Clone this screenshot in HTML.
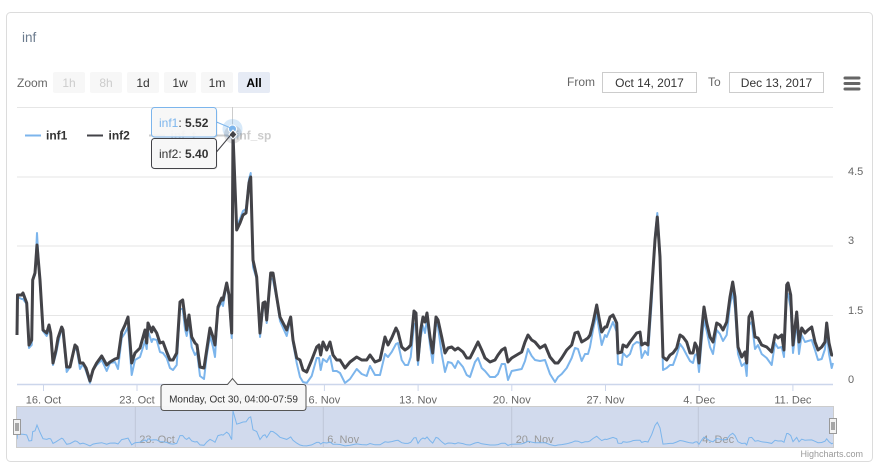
<!DOCTYPE html>
<html>
<head>
<meta charset="utf-8">
<style>
html,body{margin:0;padding:0;background:#fff;width:883px;height:469px;overflow:hidden;}
svg{display:block;font-family:"Liberation Sans",Arial,sans-serif;}
</style>
</head>
<body>
<svg width="883" height="469" viewBox="0 0 883 469" xmlns="http://www.w3.org/2000/svg">
  <!-- container -->
  <rect x="6.5" y="12.5" width="866" height="449" rx="4" ry="4" fill="#fff" stroke="#dcdcdc" stroke-width="1"/>
  <!-- title -->
  <text x="22" y="42" font-size="13.5" fill="#6b7b8e">inf</text>

  <!-- range selector -->
  <text x="17" y="87" font-size="12" fill="#666">Zoom</text>
  <g font-size="12" text-anchor="middle">
    <rect x="53" y="72" width="32" height="21" rx="2" fill="#f7f7f7"/>
    <text x="69" y="87" fill="#cccccc">1h</text>
    <rect x="90" y="72" width="32" height="21" rx="2" fill="#f7f7f7"/>
    <text x="106" y="87" fill="#cccccc">8h</text>
    <rect x="127" y="72" width="32" height="21" rx="2" fill="#f7f7f7"/>
    <text x="143" y="87" fill="#333">1d</text>
    <rect x="164" y="72" width="32" height="21" rx="2" fill="#f7f7f7"/>
    <text x="180" y="87" fill="#333">1w</text>
    <rect x="201" y="72" width="32" height="21" rx="2" fill="#f7f7f7"/>
    <text x="217" y="87" fill="#333">1m</text>
    <rect x="238" y="72" width="32" height="21" rx="2" fill="#e6ebf5"/>
    <text x="254" y="87" fill="#000" font-weight="bold">All</text>
  </g>
  <text x="567" y="86" font-size="12" fill="#666">From</text>
  <rect x="602.5" y="72.5" width="94" height="20" fill="#fff" stroke="#cccccc"/>
  <text x="649.5" y="87" font-size="12" fill="#333" text-anchor="middle">Oct 14, 2017</text>
  <text x="708" y="86" font-size="12" fill="#666">To</text>
  <rect x="729.5" y="72.5" width="94" height="20" fill="#fff" stroke="#cccccc"/>
  <text x="776.5" y="87" font-size="12" fill="#333" text-anchor="middle">Dec 13, 2017</text>
  <!-- hamburger -->
  <g stroke="#666" stroke-width="3" stroke-linecap="round">
    <line x1="845" y1="78" x2="859" y2="78"/>
    <line x1="845" y1="83.5" x2="859" y2="83.5"/>
    <line x1="845" y1="89" x2="859" y2="89"/>
  </g>

  <!-- gridlines -->
  <g stroke="#e6e6e6" stroke-width="1">
    <line x1="17" y1="107.5" x2="833" y2="107.5"/>
    <line x1="17" y1="177" x2="833" y2="177"/>
    <line x1="17" y1="246" x2="833" y2="246"/>
    <line x1="17" y1="315.5" x2="833" y2="315.5"/>
  </g>
  <!-- y labels -->
  <g font-size="11" fill="#666">
    <text x="848" y="175">4.5</text>
    <text x="848" y="244">3</text>
    <text x="848" y="314">1.5</text>
    <text x="848" y="383">0</text>
  </g>

  <!-- crosshair -->
  <line x1="232.5" y1="107" x2="232.5" y2="384" stroke="#cccccc" stroke-width="1"/>

  <!-- series -->
  <polyline id="blue" fill="none" stroke="#7cb5ec" stroke-width="2" stroke-linejoin="round" points=""/>
  <polyline id="dark" fill="none" stroke="#434348" stroke-width="3" stroke-linejoin="round" points="17,335 17.5,295 21.7,295 23,293 26.7,303 29,345 31.7,340 32.7,280 35,273 37,245 40,280 43,330 46.7,333 49,325 50.7,333 53,363 56,350 58,338 61.7,327 63,330 66.7,367 70,367 75,345 77,347 80,363 83,363 86,368 90,381 93,370 96.7,363 101.7,356 106.7,365 110,362 115,359 118,358 121.7,332 125,325 128,317 131.7,363 135,353 140,348 145,330 146.7,343 148,323 151.7,332 153,327 156.7,333 160,343 163,342 166.7,352 170,360 173,360 176.7,353 180,302 182.7,300 185,318 186.7,330 189,315 191.7,337 195,343 197,345 200,367 204,368 206.7,350 210,328 213,337 215,345 218,307 221.7,298 223,300 226.7,283 229,295 231.7,333 233,134.5 236.7,230 240,223 243,215 246,213 249,183 250.7,177 253,260 256.7,277 260,333 263,303 265,302 266.7,320 270.7,273 273,273 276.7,297 280,317 286.7,330 290.7,317 293,340 296.7,358 300,360 303,370 306.7,372 311.7,360 316.7,347 319,345 320.7,355 323,342 326.7,350 330,342 333,355 336.7,360 340,360 345,368 350,362 356.7,357 361.7,360 366.7,360 370,355 375,362 380,360 385,337 388,345 391.7,338 396,328 398,332 401.7,347 405,350 408,348 410.7,345 414,311 416,313 418,360 420.7,330 423,317 425,322 427,313 430,337 432.7,353 436,317 438,320 441.7,337 445,353 448,348 451.7,347 455,350 458,348 463,352 466.7,358 470,358 475,348 478,342 481.7,350 485,358 490,362 495,360 498,355 501.7,350 505,348 508,362 511.7,358 516.7,355 521.7,352 525,342 528,335 531.7,340 535,342 540,348 545,345 550,357 555,363 558,363 561.7,358 566.7,350 571.7,345 575,333 578,332 581.7,342 585,340 588,338 590,335 593,323 596.7,305 599,318 601.7,332 605,327 606.7,327 610,317 613,315 616.7,323 618,353 621.7,352 623,345 626.7,347 630,342 633,338 636.7,333 640,332 641.7,345 645,343 648,345 651.7,290 655,240 657.3,217 660,257 663,357 666.7,360 670,355 673,353 676.7,348 680,335 683,337 686.7,342 690,353 693,353 695,343 697,347 699,363 701.7,330 704,307 706.7,323 710,337 713,342 716.7,323 720,325 723,330 726.7,322 730,297 732.7,282 735,297 738,347 741.7,357 745,352 746.7,363 749,317 751.7,312 755,337 758,338 761.7,345 766.7,347 771.7,352 775,335 778,338 781.7,335 784,350 786.7,285 788,283 790.7,295 793,345 796.7,312 799,342 801.7,328 805,333 808,330 811.7,327 815,342 818,350 821.7,347 825,342 826.7,323 829,343 831.7,355 833,355"/>

  <!-- x axis -->
  <line x1="17" y1="384.5" x2="833" y2="384.5" stroke="#ccd6eb" stroke-width="1.5"/>
  <g stroke="#ccd6eb" stroke-width="1">
    <line x1="43.5" y1="385" x2="43.5" y2="391"/>
    <line x1="137" y1="385" x2="137" y2="391"/>
    <line x1="230.7" y1="385" x2="230.7" y2="391"/>
    <line x1="324.4" y1="385" x2="324.4" y2="391"/>
    <line x1="418.1" y1="385" x2="418.1" y2="391"/>
    <line x1="511.8" y1="385" x2="511.8" y2="391"/>
    <line x1="605.5" y1="385" x2="605.5" y2="391"/>
    <line x1="699.2" y1="385" x2="699.2" y2="391"/>
    <line x1="792.9" y1="385" x2="792.9" y2="391"/>
  </g>
  <g font-size="11" fill="#666" text-anchor="middle">
    <text x="43.5" y="403.5">16. Oct</text>
    <text x="137" y="403.5">23. Oct</text>
    <text x="230.7" y="403.5">30. Oct</text>
    <text x="324.4" y="403.5">6. Nov</text>
    <text x="418.1" y="403.5">13. Nov</text>
    <text x="511.8" y="403.5">20. Nov</text>
    <text x="605.5" y="403.5">27. Nov</text>
    <text x="699.2" y="403.5">4. Dec</text>
    <text x="792.9" y="403.5">11. Dec</text>
  </g>

  <!-- legend -->
  <g font-size="12" font-weight="bold">
    <line x1="25" y1="135.5" x2="41" y2="135.5" stroke="#7cb5ec" stroke-width="2"/>
    <text x="46" y="139.5" fill="#333">inf1</text>
    <line x1="87" y1="135.5" x2="103" y2="135.5" stroke="#434348" stroke-width="2"/>
    <text x="108.5" y="139.5" fill="#333">inf2</text>
    <line x1="149" y1="135.5" x2="165" y2="135.5" stroke="#cccccc" stroke-width="2"/>
    <text x="170.5" y="139.5" fill="#cccccc">inf_t</text>
    <line x1="215" y1="135.5" x2="231" y2="135.5" stroke="#cccccc" stroke-width="2"/>
    <text x="236" y="139.5" fill="#cccccc">inf_sp</text>
  </g>

  <!-- hover halos & markers -->
  <circle cx="232.5" cy="129" r="10" fill="rgba(124,181,236,0.3)"/>
  <circle cx="233" cy="134.5" r="9" fill="rgba(67,67,72,0.15)"/>
  <circle cx="232.5" cy="129" r="4" fill="#7cb5ec" stroke="#fff" stroke-width="1"/>
  <path d="M233 130 L237 134.5 L233 139 L229 134.5 Z" fill="#434348" stroke="#fff" stroke-width="1"/>

  <!-- split tooltips -->
  <line x1="216.5" y1="122" x2="232" y2="128.5" stroke="#7cb5ec" stroke-width="1"/>
  <line x1="216.5" y1="152" x2="232" y2="133.5" stroke="#434348" stroke-width="1"/>
  <rect x="153" y="109" width="64.5" height="29.5" rx="3" fill="rgba(0,0,0,0.08)"/>
  <rect x="151.5" y="107.5" width="65" height="29.5" rx="3" fill="rgba(247,247,247,0.92)" stroke="#7cb5ec" stroke-width="1"/>
  <text x="159" y="127" font-size="12" fill="#333"><tspan fill="#7cb5ec">inf1</tspan>: <tspan font-weight="bold">5.52</tspan></text>
  <rect x="153" y="140" width="64.5" height="29.5" rx="3" fill="rgba(0,0,0,0.08)"/>
  <rect x="151.5" y="138.5" width="65" height="30" rx="3" fill="rgba(247,247,247,0.92)" stroke="#434348" stroke-width="1"/>
  <text x="159" y="158" font-size="12" fill="#333"><tspan fill="#333">inf2</tspan>: <tspan font-weight="bold">5.40</tspan></text>

  <!-- navigator -->
  <rect x="17" y="407" width="816" height="40" fill="#d1daed"/>
  <g stroke="#bfc7d8" stroke-width="1">
    <line x1="135.3" y1="407" x2="135.3" y2="447"/>
    <line x1="323.3" y1="407" x2="323.3" y2="447"/>
    <line x1="511.7" y1="407" x2="511.7" y2="447"/>
    <line x1="698.3" y1="407" x2="698.3" y2="447"/>
  </g>
  <g font-size="11" fill="#999">
    <text x="139.3" y="443">23. Oct</text>
    <text x="327.3" y="443">6. Nov</text>
    <text x="515.7" y="443">20. Nov</text>
    <text x="702.3" y="443">4. Dec</text>
  </g>
  <polyline id="nav" fill="none" stroke="#7cb5ec" stroke-width="1" points=""/>
  <rect x="16.5" y="406.5" width="817" height="41" fill="none" stroke="#cccccc" stroke-width="1"/>
  <!-- handles -->
  <rect x="13.5" y="419.5" width="7" height="15" fill="#f2f2f2" stroke="#999" stroke-width="1"/>
  <line x1="16" y1="423" x2="16" y2="431" stroke="#333" stroke-width="0.8"/>
  <line x1="18" y1="423" x2="18" y2="431" stroke="#333" stroke-width="0.8"/>
  <rect x="829.5" y="418.5" width="7" height="15" fill="#f2f2f2" stroke="#999" stroke-width="1"/>
  <line x1="832" y1="422" x2="832" y2="430" stroke="#333" stroke-width="0.8"/>
  <line x1="834" y1="422" x2="834" y2="430" stroke="#333" stroke-width="0.8"/>

  <!-- x axis tooltip -->
  <path d="M164 384.5 L227.5 384.5 L232.5 378.5 L237.5 384.5 L303 384.5 Q306 384.5 306 387.5 L306 407.5 Q306 410.5 303 410.5 L164 410.5 Q161 410.5 161 407.5 L161 387.5 Q161 384.5 164 384.5 Z" fill="rgba(247,247,247,0.95)" stroke="#555" stroke-width="1"/>
  <text x="233.5" y="402.5" font-size="10" fill="#333" text-anchor="middle">Monday, Oct 30, 04:00-07:59</text>

  <!-- credits -->
  <text x="863" y="457" font-size="9" fill="#999" text-anchor="end">Highcharts.com</text>
</svg>
<script>
(function(){
  var dark = document.getElementById('dark');
  var pts = dark.getAttribute('points').trim().split(/\s+/).map(function(s){var a=s.split(',');return [parseFloat(a[0]),parseFloat(a[1])];});
  var blue = pts.map(function(p,i){
    var x=p[0], y=p[1], o;
    if(y<260) o=-4;
    else if(x<118) o=3;
    else if(x<216) o=9;
    else if(x<300) o=4;
    else if(x<415) o=14;
    else if(x<440) o=8;
    else if(x<590) o=16;
    else o=10;
    var n = (y<260)?0:(((i*37)%7)-3);
    var by = Math.min(383, y+o+n);
    if(Math.abs(x-37)<0.5) by=233;
    if(Math.abs(x-233)<0.5) by=129;
    if(Math.abs(x-250.7)<0.5) by=173;
    if(Math.abs(x-657.3)<0.5) by=213;
    return [x,by];
  });
  document.getElementById('blue').setAttribute('points', blue.map(function(p){return p[0]+','+p[1];}).join(' '));
  var nav = blue.map(function(p){return p[0]+','+(446-(384-p[1])*0.1385).toFixed(1);});
  document.getElementById('nav').setAttribute('points', nav.join(' '));
})();
</script>
</body>
</html>
